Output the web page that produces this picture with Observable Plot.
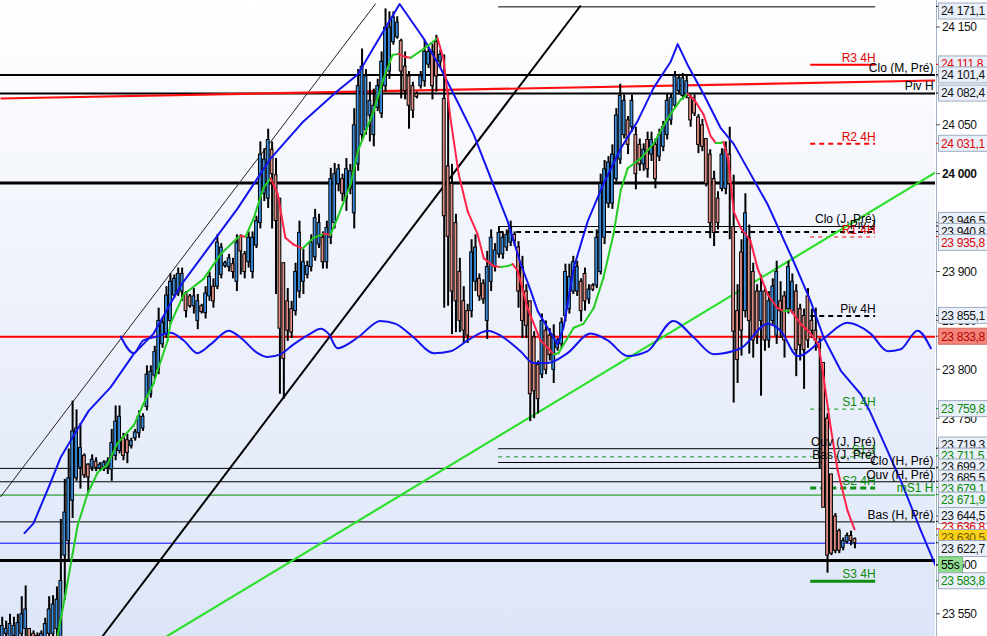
<!DOCTYPE html>
<html><head><meta charset="utf-8">
<script src="https://cdn.jsdelivr.net/npm/d3@7"></script>
<script src="https://cdn.jsdelivr.net/npm/@observablehq/plot@0.6"></script>
<style>
html,body{margin:0;padding:0;background:#fff;overflow:hidden}
#chart svg{display:block}
</style></head><body><div id="chart"></div>
<script>
// Candles: [high, low, open, close]
const candles = [
[23547,23518,23523,23538],[23543,23518,23530,23535],[23550,23518,23525,23540],[23547,23518,23528,23538],[23550,23518,23526,23541],
[23568,23518,23530,23550],[23579,23518,23535,23555],[23535,23518,23535,23523],[23533,23518,23530,23522],[23531,23518,23520,23528],
[23533,23518,23522,23530],[23546,23518,23525,23540],[23568,23518,23530,23555],[23569,23520,23530,23560],[23578,23522,23535,23565],
[23647,23520,23525,23584],[23688,23564,23610,23654],[23719,23605,23625,23689],[23768,23648,23666,23737],[23759,23686,23689,23740],
[23745,23678,23700,23720],[23714,23689,23712,23692],[23704,23674,23703,23690],[23713,23696,23700,23708],[23710,23696,23706,23700],
[23705,23696,23699,23703],[23707,23696,23700,23705],[23710,23693,23700,23706],[23739,23686,23698,23725],[23763,23707,23712,23747],
[23763,23714,23717,23752],[23735,23707,23730,23712],[23734,23704,23728,23715],[23730,23719,23722,23727],[23739,23727,23730,23736],
[23758,23730,23735,23752],[23755,23737,23740,23752],[23804,23758,23762,23795],[23804,23771,23775,23798],[23824,23790,23794,23818],
[23863,23795,23800,23850],[23853,23822,23826,23848],[23885,23832,23836,23876],[23898,23846,23850,23890],[23897,23873,23876,23893],
[23904,23875,23878,23898],[23904,23870,23880,23898],[23880,23853,23878,23860],[23877,23863,23875,23865],[23883,23857,23865,23875],
[23877,23841,23850,23870],[23867,23857,23865,23859],[23885,23852,23858,23878],[23900,23870,23875,23895],[23893,23863,23885,23870],
[23938,23882,23885,23930],[23929,23893,23897,23925],[23911,23904,23906,23909],[23918,23900,23905,23914],[23914,23893,23908,23900],
[23938,23880,23890,23930],[23938,23897,23936,23921],[23921,23893,23918,23900],[23941,23904,23910,23935],[23941,23893,23900,23935],
[23957,23924,23927,23952],[24033,23944,23950,24020],[24026,23972,23980,24015],[24046,23965,23975,24035],[24033,23944,24025,24000],
[24016,23877,23999,23952],[23975,23775,23975,23842],[23909,23770,23909,23811],[23883,23829,23870,23840],[23870,23832,23862,23838],
[23909,23855,23860,23900],[23952,23873,23880,23940],[23923,23877,23890,23910],[23911,23893,23897,23906],[23938,23900,23905,23930],
[23964,23911,23915,23955],[23959,23924,23928,23950],[23941,23903,23935,23910],[23952,23903,23910,23945],[24006,23928,23935,23995],
[24011,23944,23950,24000],[24010,23982,23990,24005],[24000,23972,23995,23980],[24016,23962,23975,24005],[24010,23979,23985,24003],
[24067,23944,23960,24050],[24107,24003,24010,24090],[24128,24033,24040,24110],[24107,24040,24045,24100],[24094,24033,24060,24075],
[24087,24028,24040,24070],[24097,24064,24068,24090],[24125,24057,24062,24115],[24169,24084,24090,24150],[24166,24097,24105,24150],
[24166,24132,24135,24160],[24161,24138,24140,24155],[24138,24077,24136,24105],[24125,24076,24110,24085],[24105,24046,24100,24070],
[24094,24057,24090,24065],[24084,24077,24082,24079],[24105,24087,24090,24100],[24137,24089,24095,24125],[24130,24108,24112,24125],
[24133,24076,24125,24090],[24142,24084,24135,24100],[24127,24108,24115,24122],[24122,23863,24077,23957],[24084,23865,24008,23936],
[24010,23836,23990,23880],[23959,23838,23950,23870],[23914,23838,23900,23850],[23885,23827,23870,23840],[23867,23827,23860,23835],
[23933,23853,23860,23920],[23938,23880,23890,23925],[23898,23870,23893,23875],[23892,23867,23888,23872],[23921,23831,23850,23905],
[23943,23880,23890,23935],[23929,23900,23905,23922],[23946,23914,23918,23940],[23941,23913,23918,23935],[23943,23921,23925,23938],
[23952,23926,23930,23945],[23941,23926,23938,23932],[23931,23863,23925,23880],[23916,23832,23905,23850],[23887,23832,23880,23845],
[23870,23747,23870,23775],[23839,23750,23833,23778],[23809,23755,23805,23770],[23857,23791,23795,23850],[23850,23795,23840,23800],
[23842,23809,23835,23815],[23846,23786,23800,23835],[23832,23819,23822,23830],[23853,23822,23826,23848],[23908,23849,23855,23900],
[23908,23857,23862,23895],[23916,23877,23880,23910],[23911,23875,23880,23905],[23893,23849,23890,23860],[23904,23860,23898,23870],
[23887,23867,23872,23882],[23888,23880,23886,23882],[23943,23883,23886,23935],[24000,23897,23900,23990],[24014,23928,23935,24005],
[24018,23965,23970,24012],[24030,23964,23970,24020],[24067,23992,23995,24060],[24092,24010,24015,24080],[24081,24036,24040,24075],
[24059,24020,24055,24030],[24081,24043,24048,24075],[24048,23984,24040,24000],[24036,24003,24030,24010],[24031,24003,24010,24025],
[24043,23996,24035,24005],[24043,24013,24020,24035],[24036,23985,24030,23995],[24046,24013,24018,24040],[24054,24023,24028,24048],
[24082,24035,24040,24075],[24082,24050,24055,24078],[24105,24067,24070,24100],[24102,24081,24085,24098],[24103,24076,24080,24098],
[24102,24077,24080,24095],[24081,24048,24078,24055],[24081,24059,24075,24062],[24061,24021,24058,24030],[24056,24023,24050,24028],
[24036,23987,24036,23990],[24025,23934,24020,23950],[24003,23926,23995,23940],[23982,23943,23975,23950],[24026,23982,23985,24020],
[24033,23979,23985,24025],[24048,23933,24020,23990],[23999,23766,23946,23839],[23887,23786,23860,23810],[23933,23814,23920,23840],
[23980,23853,23860,23960],[23948,23816,23935,23850],[23909,23812,23900,23830],[23887,23826,23880,23835],[23897,23773,23850,23880],
[23885,23819,23880,23830],[23880,23822,23830,23870],[23893,23846,23850,23885],[23911,23826,23835,23900],[23890,23832,23870,23860],
[23880,23812,23875,23830],[23911,23857,23862,23905],[23898,23857,23860,23890],[23887,23793,23880,23820],[23867,23809,23862,23825],
[23862,23780,23855,23820],[23883,23822,23875,23830],[23862,23832,23850,23840],[23863,23819,23840,23830],[23832,23699,23828,23822],
[23807,23659,23807,23659],[23755,23592,23750,23610],[23693,23610,23693,23612],[23653,23612,23650,23615],[23637,23612,23635,23615],
[23628,23615,23618,23625],[23633,23622,23624,23630],[23635,23620,23630,23625],[23628,23617,23627,23622.7]
];

// Upper blue envelope [bar index, price]
const upperBand = [[5.7,23633],[8.0,23643],[12.3,23684],[14.9,23710],[18.0,23731],[22.1,23758],[27.7,23782],[33.6,23816],[38.7,23837],[45.6,23886],[51.5,23918],[60.2,23965],[68.6,24016],[77.0,24054],[85.7,24085],[90.9,24102],[94.9,24129],[101.6,24174],[107.7,24139],[112.1,24108],[116.4,24074],[120.5,24041],[124.9,23996],[129.2,23952],[132.5,23909],[135.1,23881],[136.9,23860],[140.9,23833],[142.0,23826],[143.5,23843],[146.1,23904],[149.7,23952],[153.7,23990],[158.1,24026],[162.4,24054],[166.5,24088],[170.9,24115],[172.7,24133],[175.2,24112],[179.3,24082],[183.7,24047],[187.0,24031],[195.7,23969],[202.3,23911],[206.7,23870],[210.0,23833],[214.4,23799],[219.5,23775],[222.0,23756],[229.7,23687],[234.8,23636],[238.6,23600]];

// Lower blue oscillating line [bar index, price]
const lowerWave = [[30.3,23834],[33.6,23817],[36.1,23830],[39.7,23834],[43.0,23838],[46.4,23830],[49.9,23817],[53.3,23826],[57.9,23840],[60.9,23833],[65.3,23817],[67.8,23813],[71.2,23816],[74.5,23826],[78.8,23837],[81.4,23842],[83.4,23837],[85.7,23822],[90.9,23833],[96.7,23850],[100.6,23847],[105.2,23833],[110.3,23817],[114.6,23819],[119.0,23830],[124.1,23840],[127.4,23835],[132.5,23819],[135.8,23807],[139.4,23807],[144.5,23817],[150.4,23837],[154.8,23830],[159.9,23814],[165.0,23819],[171.6,23850],[176.8,23833],[181.9,23816],[188.8,23822],[195.7,23847],[199.0,23840],[203.4,23814],[210.0,23832],[216.1,23848],[222.0,23837],[226.4,23819],[229.7,23821],[234.0,23840],[237.4,23822]];

// Moving average (green rising / red falling) [bar index, price]
const movingAvg = [[14.1,23527],[16.2,23571],[18.0,23612],[19.3,23641],[21.8,23673],[24.4,23695],[26.9,23703],[29.5,23725],[33.6,23743],[36.1,23765],[38.7,23786],[39.7,23799],[42.3,23830],[43.0,23847],[46.4,23877],[51.5,23893],[55.8,23918],[60.2,23935],[60.9,23937],[62.2,23936],[64.3,23955],[66.8,23986],[68.6,23996],[70.4,23980],[72.4,23935],[74.5,23928],[76.8,23924],[79.6,23935],[82.2,23939],[83.9,23938],[85.7,23955],[89.1,23990],[90.9,24023],[94.9,24064],[97.5,24098],[99.8,24122],[101.3,24123],[102.9,24120],[104.4,24119],[107.7,24128],[111.3,24139],[112.8,24118],[114.6,24057],[116.7,24000],[119.0,23962],[121.5,23939],[123.1,23914],[125.6,23906],[127.4,23905],[129.2,23906],[130.5,23908],[131.8,23901],[134.3,23863],[137.6,23830],[141.0,23816],[142.2,23817],[146.1,23843],[148.6,23847],[151.2,23863],[153.7,23894],[156.3,23939],[158.1,23983],[159.9,24006],[163.2,24016],[166.5,24031],[170.1,24057],[173.4,24076],[175.2,24082],[176.8,24077],[179.3,24061],[181.1,24039],[182.4,24032],[183.7,24032],[184.4,24033],[185.7,24013],[187.0,23962],[188.8,23945],[191.3,23932],[193.1,23904],[195.7,23877],[198.2,23863],[199.8,23860],[201.6,23861],[204.1,23847],[206.7,23837],[208.7,23826],[210.0,23792],[211.8,23741],[213.6,23697],[216.1,23656],[217.9,23636.8]];

// Trend lines [start index, start price, end index, end price]
const trendLines = [
  {kind: "thin",  pts: [-0.435, 23670, 95.5, 24174.5]},
  {kind: "thick", pts: [25.6, 23527.3, 147.9, 24172.5]},
  {kind: "green", pts: [42.0, 23527.3, 238.6, 24001.7]},
  {kind: "red",   pts: [-0.435, 24077.4, 238.6, 24095.8]}
];

// Horizontal levels
const hourLevels = [
  {label: "Clo (M, Pré)", value: 24101.4, kind: "black2"},
  {label: "Piv H", value: 24082.4, kind: "black2"},
  {label: "", value: 23991, kind: "black3"},
  {label: "", value: 23833.8, kind: "red2"},
  {label: "Clo (H, Pré)", value: 23699.2, kind: "black1"},
  {label: "Ouv (H, Pré)", value: 23685.5, kind: "black1"},
  {label: "mS1 H", value: 23671.9, kind: "green1"},
  {label: "Bas (H, Pré)", value: 23644.5, kind: "black1"},
  {label: "", value: 23622.7, kind: "blue1"},
  {label: "", value: 23605, kind: "black3"}
];
const dayLevels = [
  {label: "", value: 24171.1, kind: "black1"},
  {label: "Clo (J, Pré)", value: 23946.5, kind: "black1"},
  {label: "Piv J", value: 23940.8, kind: "blackDash2"},
  {label: "Ouv (J, Pré)", value: 23719.3, kind: "black1"},
  {label: "S1 J", value: 23711, kind: "greenDash1"},
  {label: "Bas (J, Pré)", value: 23705.2, kind: "black1"}
];
const h4Levels = [
  {label: "R3 4H", value: 24111.8, kind: "red2"},
  {label: "R2 4H", value: 24031.1, kind: "redDash2"},
  {label: "R1 4H", value: 23935.8, kind: "redDash1"},
  {label: "Piv 4H", value: 23855.1, kind: "blackDash2"},
  {label: "S1 4H", value: 23759.8, kind: "greenDash1"},
  {label: "S2 4H", value: 23679.1, kind: "greenDash3"},
  {label: "S3 4H", value: 23583.8, kind: "green3"}
];
const dayStart = 126.9, h4Start = 206.7, h4End = 223.3;
const xMin = -0.435, xMax = 238.6;
const yMin = 23527.3, yMax = 24177.6;

// Right-axis value boxes
const axisBoxes = [
  {value: 24171.1, kind: "box"}, {value: 24111.8, kind: "boxRed"}, {value: 24101.4, kind: "box"},
  {value: 24082.4, kind: "box"}, {value: 24031.1, kind: "boxRed"}, {value: 23946.5, kind: "box"},
  {value: 23940.8, kind: "box"}, {value: 23935.8, kind: "boxRed"}, {value: 23855.1, kind: "box"},
  {value: 23833.8, kind: "boxSalmon"}, {value: 23759.8, kind: "boxGreen"}, {value: 23719.3, kind: "box"},
  {value: 23711.5, kind: "boxGreen"}, {value: 23699.2, kind: "box"}, {value: 23685.5, kind: "box"},
  {value: 23679.1, kind: "boxGreen"}, {value: 23671.9, kind: "boxGreen"}, {value: 23644.5, kind: "box"},
  {value: 23636.8, kind: "red"}, {value: 23630.5, kind: "boxYellow"}, {value: 23622.7, kind: "box"},
  {value: 23600, kind: "timer", text: "55s"}, {value: 23583.8, kind: "boxGreen"}
];
const tickValues = [23550,23600,23650,23700,23750,23800,23850,23900,23950,24000,24050,24100,24150];

// ---------- styles ----------
const lineStyle = {
  black1: {stroke: "#000", w: 1, dash: null, text: "#000"},
  black2: {stroke: "#000", w: 2, dash: null, text: "#000"},
  black3: {stroke: "#000", w: 3.2, dash: null, text: "#000"},
  blackDash2: {stroke: "#000", w: 2, dash: "5,4", text: "#000"},
  red2: {stroke: "#ff0000", w: 2, dash: null, text: "#e00000"},
  redDash2: {stroke: "#ff0000", w: 2, dash: "5,4", text: "#e00000"},
  redDash1: {stroke: "#ff0000", w: 1, dash: "4,4", text: "#e00000"},
  green1: {stroke: "#008a00", w: 1, dash: null, text: "#008a00"},
  greenDash1: {stroke: "#149a14", w: 1, dash: "4,4", text: "#0a8a0a"},
  greenDash3: {stroke: "#0f8f0f", w: 3, dash: "6,4", text: "#0a8a0a"},
  green3: {stroke: "#0f8f0f", w: 3, dash: null, text: "#0a8a0a"},
  blue1: {stroke: "#0000ff", w: 1, dash: null, text: "#0000ff"}
};
const trendStyle = {
  thin: {stroke: "#222", w: 1},
  thick: {stroke: "#000", w: 2},
  green: {stroke: "#2ee02e", w: 2.2},
  red: {stroke: "#ff1010", w: 2.2}
};

function levelMarks(levels, x1, x2) {
  return levels.map(l => {
    const s = lineStyle[l.kind];
    return Plot.ruleY([l], {y: "value", x1: () => x1, x2: () => x2, stroke: s.stroke, strokeWidth: s.w, strokeDasharray: s.dash, clip: true});
  });
}
function levelLabels(levels, labelX) {
  return levels.filter(l => l.label).map(l => Plot.text([l], {
    x: () => labelX, y: "value", text: "label", textAnchor: "end", dy: -7,
    fill: lineStyle[l.kind].text, fontSize: 12
  }));
}

const maSegments = movingAvg.slice(1).map((d, k) => ({
  x1: movingAvg[k][0], y1: movingAvg[k][1], x2: d[0], y2: d[1], up: d[1] >= movingAvg[k][1]
}));

const chart = Plot.plot({
  width: 987, height: 636,
  marginLeft: 0, marginRight: 52, marginTop: 0, marginBottom: 0,
  x: {domain: [xMin, xMax], axis: null},
  y: {domain: [yMin, yMax], axis: null},
  style: "background: linear-gradient(to right, rgba(255,255,255,0) 935px, #ffffff 935px), linear-gradient(to bottom, #ffffff 0%, #eef2fb 45%, #dde6f8 100%); font-family: 'Liberation Sans', Arial, sans-serif;",
  marks: [
    ...levelMarks(dayLevels, dayStart, h4End),
    ...levelMarks(h4Levels, h4Start, h4End),
    ...levelMarks(hourLevels, xMin, xMax),
    ...trendLines.map(t => Plot.link([t], {
      x1: d => d.pts[0], y1: d => d.pts[1], x2: d => d.pts[2], y2: d => d.pts[3],
      stroke: trendStyle[t.kind].stroke, strokeWidth: trendStyle[t.kind].w, clip: true
    })),
    Plot.ruleX(candles, {x: (d, i) => i, y1: d => d[1], y2: d => d[0], stroke: "#000", strokeWidth: 2, clip: true}),
    Plot.rect(candles, {
      x1: (d, i) => i - 0.36, x2: (d, i) => i + 0.36, y1: d => d[2], y2: d => d[3],
      fill: d => d[3] >= d[2] ? "#3b8de0" : "#e08e86", stroke: "#000", strokeWidth: 1, clip: true
    }),
    Plot.line(lowerWave, {x: d => d[0], y: d => d[1], stroke: "#1414ee", strokeWidth: 2, curve: "monotone-x", clip: true}),
    Plot.line(upperBand, {x: d => d[0], y: d => d[1], stroke: "#1414ee", strokeWidth: 2, curve: "linear", clip: true}),
    Plot.link(maSegments, {x1: "x1", y1: "y1", x2: "x2", y2: "y2",
      stroke: d => d.up ? "#22cc22" : "#ff2448", strokeWidth: 2, strokeLinecap: "round", clip: true}),
    ...levelLabels(dayLevels, h4End),
    ...levelLabels(h4Levels, h4End),
    ...levelLabels(hourLevels, 238.1),
    Plot.ruleX([xMax], {stroke: "#a3b1c4", strokeWidth: 1, dx: 1})
  ]
});
document.getElementById("chart").appendChild(chart);

// ---------- right axis (positions from Plot's y scale) ----------
const yScale = chart.scale("y");
const svg = d3.select(chart);
const g = svg.append("g")
  .attr("font-family", "'Liberation Sans', Arial, sans-serif")
  .attr("font-size", 12)
  .attr("letter-spacing", "-0.35px")
  .attr("text-anchor", "start");
function fmtInt(v) { return String(Math.round(v)).replace(/\B(?=(\d{3})+(?!\d))/g, " "); }
function fmtDec(v) {
  const [a, b] = v.toFixed(1).split(".");
  return a.replace(/\B(?=(\d{3})+(?!\d))/g, " ") + "," + b;
}
const axisX = 936;
for (const v of tickValues) {
  const yy = yScale.apply(v);
  g.append("line").attr("x1", axisX).attr("x2", axisX + 4).attr("y1", yy).attr("y2", yy).attr("stroke", "#555");
  g.append("text").attr("x", axisX + 6).attr("y", yy).attr("dy", "0.36em")
    .attr("font-weight", v === 24000 ? "bold" : null).attr("fill", "#111").text(fmtInt(v));
}
const boxStyle = {
  box: {fill: "#eaf0fa", stroke: "#9eabbe", text: "#111"},
  boxRed: {fill: "#eaf0fa", stroke: "#9eabbe", text: "#e00000"},
  boxGreen: {fill: "#eaf0fa", stroke: "#9eabbe", text: "#0a8a0a"},
  boxSalmon: {fill: "#f2857b", stroke: "#d56a62", text: "#b80000"},
  boxYellow: {fill: "#ffd21a", stroke: "#9eabbe", text: "#6a5a00"},
  red: {fill: null, stroke: null, text: "#e00000"},
  timer: {fill: "#8fdc8f", stroke: "#6cbf6c", text: "#000"}
};
const items = axisBoxes.map(d => ({...d, y0: yScale.apply(d.value), y: yScale.apply(d.value)})).sort((a, b) => a.y0 - b.y0);
const G = 11;
for (let it = 0; it < 400; it++) {
  for (let k = 0; k < items.length - 1; k++) {
    const a = items[k], b = items[k + 1];
    const gap = b.y - a.y;
    if (gap < G) { const m = (G - gap) / 2; a.y -= m; b.y += m; }
  }
  if (items[0].y < 11) items[0].y = 11;
}
for (const d of items) {
  const s = boxStyle[d.kind];
  g.append("line").attr("x1", axisX).attr("x2", axisX + 4).attr("y1", d.y0).attr("y2", d.y0).attr("stroke", s.text);
  if (s.fill) {
    g.append("rect").attr("x", 938.5).attr("y", d.y - 8).attr("width", d.kind === "timer" ? 24 : 60).attr("height", 16)
      .attr("fill", s.fill).attr("stroke", s.stroke).attr("stroke-width", 1);
  }
  g.append("text").attr("x", 941).attr("y", d.y).attr("dy", "0.36em").attr("fill", s.text)
    .text(d.text ? d.text : fmtDec(d.value));
}
</script>
</body></html>
